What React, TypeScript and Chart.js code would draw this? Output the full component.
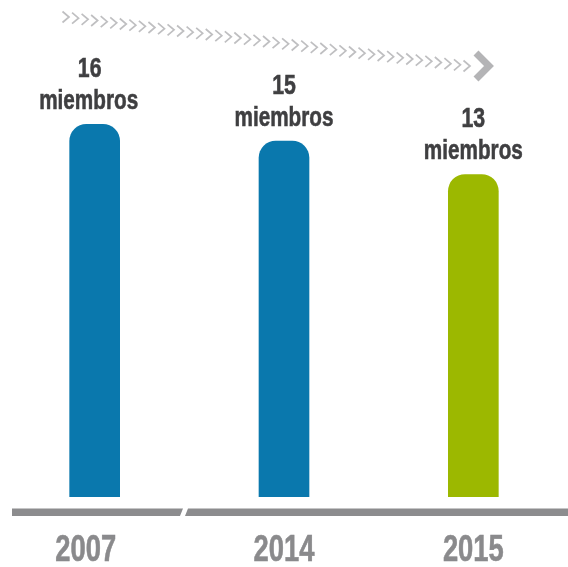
import React, { useEffect, useRef } from "react";
import { Chart, registerables } from "chart.js";

Chart.register(...registerables);

const years = ["2007", "2014", "2015"];
const members = [16, 15, 13];
const unitLabel = "miembros";
const barColors = ["#0A78AD", "#0A78AD", "#9CB800"];

const yMin = -6.3;
const yMax = 23.44;

const W = 568;
const H = 567;

const decorPlugin = {
  id: "decor",
  beforeDatasetsDraw(chart: any) {
    const ctx = chart.ctx as CanvasRenderingContext2D;
    const n = 43;
    const x0 = 66, y0 = 17, x1 = 467, y1 = 66;
    ctx.save();
    ctx.strokeStyle = "#bfbfc1";
    ctx.lineWidth = 1.7;
    ctx.lineCap = "butt";
    for (let i = 0; i < n; i++) {
      const t = i / (n - 1);
      const cx = x0 + (x1 - x0) * t;
      const cy = y0 + (y1 - y0) * t;
      ctx.beginPath();
      ctx.moveTo(cx - 3.5, cy - 5.5);
      ctx.lineTo(cx + 3, cy);
      ctx.lineTo(cx - 3.5, cy + 5.5);
      ctx.stroke();
    }
    ctx.strokeStyle = "#b4b4b6";
    ctx.lineWidth = 7;
    ctx.lineJoin = "miter";
    ctx.beginPath();
    ctx.moveTo(476, 53);
    ctx.lineTo(489, 66);
    ctx.lineTo(476, 79);
    ctx.stroke();
    ctx.restore();
  },
  afterDatasetsDraw(chart: any) {
    const ctx = chart.ctx as CanvasRenderingContext2D;
    const meta = chart.getDatasetMeta(0);
    const xScale = chart.scales.x;
    ctx.save();
    ctx.fillStyle = "#8c8c8e";
    ctx.beginPath();
    ctx.moveTo(12, 508.5);
    ctx.lineTo(183, 508.5);
    ctx.lineTo(180, 516);
    ctx.lineTo(12, 516);
    ctx.closePath();
    ctx.fill();
    ctx.beginPath();
    ctx.moveTo(188, 508.5);
    ctx.lineTo(W, 508.5);
    ctx.lineTo(W, 516);
    ctx.lineTo(185, 516);
    ctx.closePath();
    ctx.fill();

    const drawText = (text: string, x: number, y: number, size: number, sx: number, color: string) => {
      ctx.save();
      ctx.translate(x, y);
      ctx.scale(sx, 1);
      ctx.font = `bold ${size}px "Liberation Sans", Arial, sans-serif`;
      ctx.fillStyle = color;
      ctx.textAlign = "center";
      ctx.textBaseline = "alphabetic";
      ctx.fillText(text, 0, 0);
      ctx.lineWidth = 0.6;
      ctx.strokeStyle = color;
      ctx.strokeText(text, 0, 0);
      ctx.restore();
    };

    meta.data.forEach((bar: any, i: number) => {
      const x = bar.x;
      const top = bar.y;
      drawText(String(members[i]), x - (i === 0 ? 5 : 0), top - 47, 28, 0.76, "#3f3f41");
      drawText(unitLabel, x - (i === 0 ? 6 : 0), top - 15, 28, 0.74, "#3f3f41");
      const lx = xScale.getPixelForValue(i);
      drawText(years[i], lx - (i === 0 ? 9 : 0), 561, 36, 0.76, "#8a8a8c");
    });
    ctx.restore();
  },
};

export default function App() {
  const ref = useRef<HTMLCanvasElement | null>(null);
  useEffect(() => {
    if (!ref.current) return;
    const chart = new Chart(ref.current, {
      type: "bar",
      data: {
        labels: years,
        datasets: [
          {
            data: members,
            base: yMin,
            backgroundColor: barColors,
            borderRadius: 17,
            borderSkipped: "start",
            barThickness: 50,
          } as any,
        ],
      },
      options: {
        animation: false,
        responsive: false,
        devicePixelRatio: 1,
        layout: { padding: { left: 0, right: 0, top: 0, bottom: 70 } },
        plugins: { legend: { display: false }, tooltip: { enabled: false } },
        scales: {
          x: { display: false },
          y: { display: false, min: yMin, max: yMax },
        },
      },
      plugins: [decorPlugin],
    });
    return () => chart.destroy();
  }, []);
  return (
    <div style={{ position: "fixed", left: 0, top: 0, width: W, height: H, background: "#ffffff" }}>
      <canvas ref={ref} width={W} height={H} style={{ width: W, height: H, display: "block" }} />
    </div>
  );
}
